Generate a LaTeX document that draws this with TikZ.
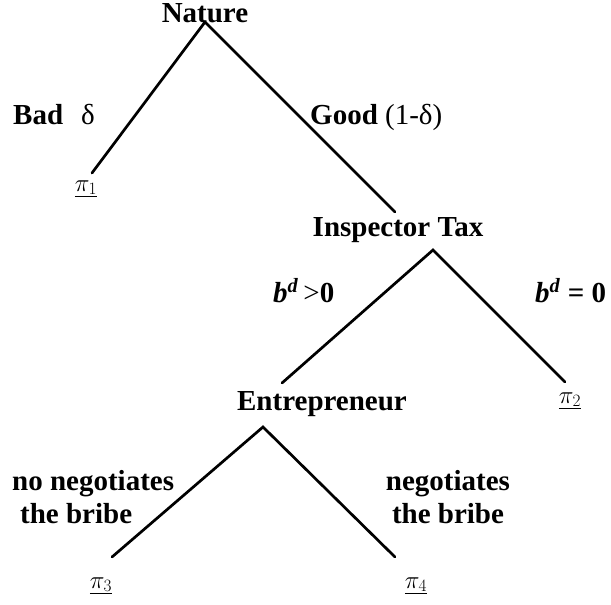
\documentclass[tikz,border=0pt]{standalone}
\usepackage{fontspec}
\setmainfont{Liberation Serif}
\begin{document}
\begin{tikzpicture}[x=1pt,y=-1pt,
  lbl/.style={font=\fontsize{29}{34}\selectfont\bfseries, inner sep=0pt},
  pay/.style={font=\fontsize{23}{26}\selectfont, inner sep=0pt, anchor=base},
  branch/.style={line width=2.7pt, line cap=round}]
\useasboundingbox (0,0) rectangle (611,605);
% decision nodes
\node[lbl, anchor=base] (nature) at (205,22) {Nature};
\node[lbl, anchor=base] (inspector) at (398,236) {Inspector Tax};
\node[lbl, anchor=base] (entre) at (322,410) {Entrepreneur};
% branch points
\coordinate (n0) at (205,22);
\coordinate (n1) at (92,173);
\coordinate (n2) at (395,212);
\coordinate (i0) at (433,250);
\coordinate (i1) at (282,383);
\coordinate (i2) at (565,382);
\coordinate (e0) at (263,427);
\coordinate (e1) at (112,557);
\coordinate (e2) at (395,557);
\draw[branch] (n1) -- (n0) -- (n2);
\draw[branch] (i1) -- (i0) -- (i2);
\draw[branch] (e1) -- (e0) -- (e2);
% branch labels
\node[lbl, anchor=base west] (bad) at (13,124) {Bad};
\node[lbl, anchor=base west, font=\fontsize{29}{34}\selectfont] (delta) at (81,124) {δ};
\node[lbl, anchor=base west] (good) at (310,124) {Good \mdseries(1-δ)};
\node[lbl, anchor=base west] (bpos) at (273,302) {\textit{b}\textsuperscript{\textit{d}}\,\textmd{>}0};
\node[lbl, anchor=base west] (bzero) at (535,302) {\textit{b}\textsuperscript{\textit{d}} = 0};
\node[lbl, anchor=base west] (noneg1) at (12,490) {no negotiates};
\node[lbl, anchor=base west] (noneg2) at (20,523) {the bribe};
\node[lbl, anchor=base] (neg1) at (448,490) {negotiates};
\node[lbl, anchor=base] (neg2) at (448,523) {the bribe};
% payoffs
\node[pay] (p1) at (86,191) {$\underline{\pi_1}$};
\node[pay] (p2) at (570,403) {$\underline{\pi_2}$};
\node[pay] (p3) at (101,588) {$\underline{\pi_3}$};
\node[pay] (p4) at (416,588) {$\underline{\pi_4}$};
\end{tikzpicture}
\end{document}
